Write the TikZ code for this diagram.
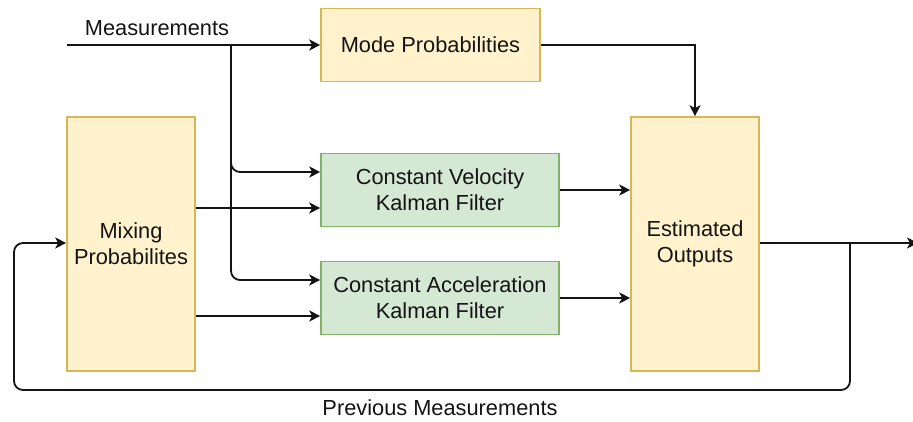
\documentclass[tikz,border=0pt]{standalone}
\usepackage{fontspec}
\setmainfont{Liberation Sans}
\usetikzlibrary{arrows.meta}
\definecolor{ylwfill}{HTML}{FFF2CC}
\definecolor{ylwdraw}{HTML}{D6B656}
\definecolor{grnfill}{HTML}{D5E8D4}
\definecolor{grndraw}{HTML}{82B366}
\definecolor{ink}{HTML}{141414}
\begin{document}
\begin{tikzpicture}[x=1pt,y=-1pt,
  every node/.style={font=\fontsize{21.8}{26}\selectfont, text=ink},
  ybox/.style={draw=ylwdraw, fill=ylwfill, line width=1.6pt, align=center, inner sep=0pt},
  gbox/.style={draw=grndraw, fill=grnfill, line width=1.6pt, align=center, inner sep=0pt,
               minimum width=238pt, minimum height=73pt},
  wire/.style={draw=ink, line width=1.8pt, rounded corners=9pt,
               -{Stealth[length=11pt,width=11pt,inset=3pt]}}]
\useasboundingbox (0,0) rectangle (913,422);

% blocks
\node[ybox, minimum width=219pt, minimum height=73pt] (mode) at (430.5,45) {Mode Probabilities};
\node[ybox, minimum width=128pt, minimum height=254pt] (mix) at (131,244) {Mixing\\Probabilites};
\node[gbox] (cv) at (440,190) {Constant Velocity\\Kalman Filter};
\node[gbox] (ca) at (440,298) {Constant Acceleration\\Kalman Filter};
\node[ybox, minimum width=128pt, minimum height=254pt] (est) at (695,244) {Estimated\\Outputs};

% free ends and branch points
\coordinate (measIn) at (67,45);
\coordinate (split) at (231,45);
\coordinate (outEnd) at (918,243);
\coordinate (tap) at (850,243);

% measurement input and its branches
\draw[wire] (measIn) -- (mode.west |- measIn);
\node[anchor=south] at (157,39) {Measurements};
\draw[wire] (split) |- (cv.west |- 0,172);
\draw[wire] (split) |- (ca.west |- 0,280);

% mixing probabilities feed both filters
\draw[wire] (mix.east |- 0,208) -- (cv.west |- 0,208);
\draw[wire] (mix.east |- 0,316) -- (ca.west |- 0,316);

% filter outputs and mode probabilities into the estimator
\draw[wire] (cv.east) -- (est.west |- cv.east);
\draw[wire] (ca.east) -- (est.west |- ca.east);
\draw[wire, sharp corners] (mode.east) -| (est.north);

% output and feedback loop
\draw[wire] (est.east |- outEnd) -- (outEnd);
\draw[wire] (tap) -- (850,390) -- (14,390) -- (14,243) -- (mix.west |- 0,243);
\node[anchor=north] at (440,396) {Previous Measurements};
\end{tikzpicture}
\end{document}
